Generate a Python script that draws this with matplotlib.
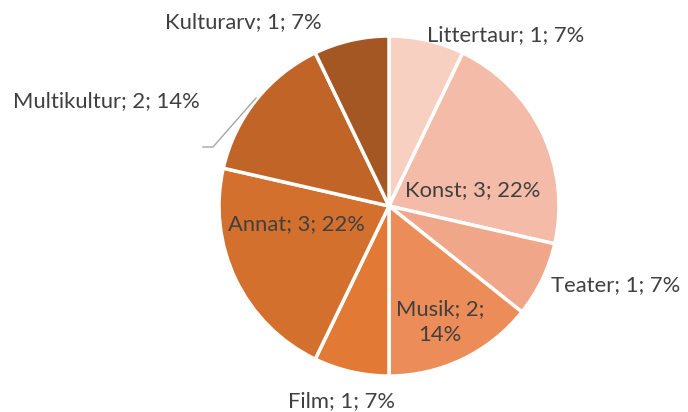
import matplotlib.pyplot as plt

# Data
categories = ["Littertaur", "Konst", "Teater", "Musik", "Film", "Annat", "Multikultur", "Kulturarv"]
counts = [1, 3, 1, 2, 1, 3, 2, 1]
percents = ["7%", "22%", "7%", "14%", "7%", "22%", "14%", "7%"]
colors = ["#F7D0C2", "#F4BCA8", "#F0A688", "#EC8C58", "#E27A35", "#D4702E", "#C06428", "#A45722"]

# label positions in pixels (x, y from top)
label_pos = [(506, 35), (473, 190), (616, 285), (440, 322), (342, 401), (296, 224), (106, 101), (243, 22)]

W, H = 688, 412
fig = plt.figure(figsize=(W / 100, H / 100), dpi=100)
ax = fig.add_axes([0, 0, 1, 1])

ax.pie(counts, colors=colors, startangle=90, counterclock=False,
       center=(389, H - 206), radius=170,
       wedgeprops=dict(edgecolor="white", linewidth=2.5))

# pie() resets the limits, so set them afterwards
ax.set_xlim(0, W)
ax.set_ylim(0, H)
ax.set_aspect("equal")
ax.axis("off")

for i, name in enumerate(categories):
    text = f"{name}; {counts[i]}; {percents[i]}"
    if name == "Musik":
        text = f"{name}; {counts[i]};\n{percents[i]}"
    x, y = label_pos[i]
    ax.text(x, H - y, text, ha="center", va="center", fontsize=15.8,
            color="#404040", family="Lato", linespacing=1.4)

# leader line for Multikultur
ax.plot([203, 213, 256], [H - 147, H - 147, H - 98], color="#A6A6A6", linewidth=1)

plt.savefig("out.png", dpi=100)
